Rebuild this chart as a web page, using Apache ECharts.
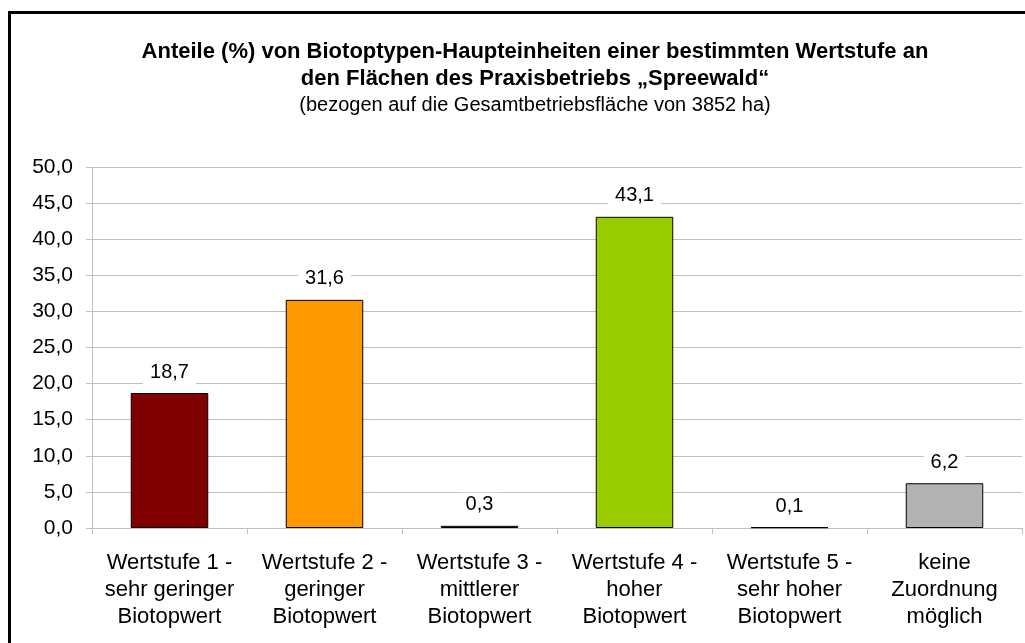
<!DOCTYPE html>
<html>
<head>
<meta charset="utf-8">
<script src="https://cdn.jsdelivr.net/npm/echarts@6/dist/echarts.min.js"></script>
<style>
  html, body { margin: 0; padding: 0; background: #fff; }
  #chart { width: 1025px; height: 643px; }
</style>
</head>
<body>
<div id="chart"></div>
<script>
// Biotope value classes and their share (%) of the farm area
const categories = [
  'Wertstufe 1 -\nsehr geringer\nBiotopwert',
  'Wertstufe 2 -\ngeringer\nBiotopwert',
  'Wertstufe 3 -\nmittlerer\nBiotopwert',
  'Wertstufe 4 -\nhoher\nBiotopwert',
  'Wertstufe 5 -\nsehr hoher\nBiotopwert',
  'keine\nZuordnung\nmöglich'
];
const shares = [18.7, 31.6, 0.3, 43.1, 0.1, 6.2];
const barColors = ['#800000', '#FF9900', '#999933', '#99CC00', '#333333', '#B2B2B2'];

const fmt = v => v.toFixed(1).replace('.', ',');
const font = '"Liberation Sans", Arial, sans-serif';

const chart = echarts.init(document.getElementById('chart'), null, { renderer: 'canvas' });

chart.setOption({
  animation: false,
  backgroundColor: '#ffffff',
  textStyle: { fontFamily: font },
  title: {
    text: 'Anteile (%) von Biotoptypen-Haupteinheiten einer bestimmten Wertstufe an\nden Flächen des Praxisbetriebs „Spreewald“',
    subtext: '(bezogen auf die Gesamtbetriebsfläche von 3852 ha)',
    left: 530,
    textAlign: 'center',
    top: 33,
    itemGap: 0,
    textStyle: { fontFamily: font, fontSize: 22, fontWeight: 'bold', color: '#000', lineHeight: 27 },
    subtextStyle: { fontFamily: font, fontSize: 20, color: '#000', lineHeight: 27 }
  },
  graphic: [{
    type: 'rect',
    shape: { x: 9.5, y: 12.5, width: 1200, height: 800 },
    style: { fill: 'none', stroke: '#000', lineWidth: 3 },
    silent: true
  }],
  grid: { left: 92, right: 3, top: 167, bottom: 115, containLabel: false },
  xAxis: {
    type: 'category',
    data: categories,
    axisLine: { lineStyle: { color: '#C0C0C0', width: 1 } },
    axisTick: { show: true, length: 6, lineStyle: { color: '#C0C0C0' } },
    axisLabel: {
      interval: 0, margin: 21, color: '#000',
      fontFamily: font, fontSize: 22, lineHeight: 27
    }
  },
  yAxis: {
    type: 'value',
    min: 0, max: 50, interval: 5,
    axisLine: { show: true, lineStyle: { color: '#C0C0C0' } },
    axisTick: { show: true, length: 6, lineStyle: { color: '#C0C0C0' } },
    splitLine: { lineStyle: { color: '#C0C0C0', width: 1 } },
    axisLabel: {
      margin: 19, color: '#000', fontFamily: font, fontSize: 21,
      formatter: v => fmt(v)
    }
  },
  series: [{
    type: 'bar',
    barWidth: '50%',
    data: shares.map((v, i) => ({
      value: v,
      itemStyle: { color: barColors[i], borderColor: '#000', borderWidth: 1 }
    })),
    label: {
      show: true,
      position: 'top',
      distance: 9,
      color: '#000',
      fontFamily: font,
      fontSize: 20,
      backgroundColor: '#fff',
      padding: [2, 7],
      formatter: p => fmt(p.value)
    }
  }]
});
</script>
</body>
</html>
